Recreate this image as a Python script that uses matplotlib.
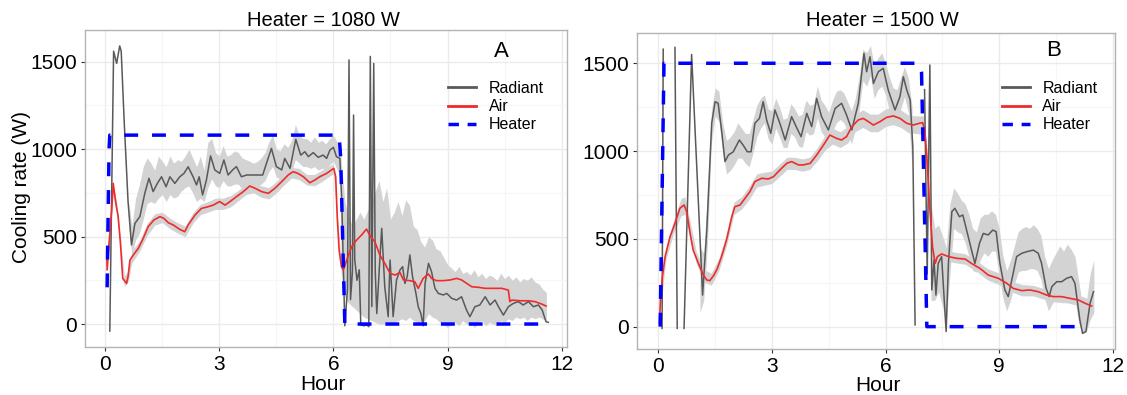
import numpy as np
import matplotlib as mpl
from matplotlib import pyplot as plt
from matplotlib.lines import Line2D

mpl.rcParams.update({"font.family": ["Liberation Sans", "DejaVu Sans"]})
nan = np.nan

############# Data: panel A (heater = 1080 W) ########
rad_a_x = [0.12, 0.22, 0.3, 0.38, 0.42, 0.5, 0.6, 0.69, 0.78, 0.91, 1.04, 1.15, 1.26, 1.37, 1.48, 1.6, 1.7,
           1.83, 1.96, 2.07, 2.18, 2.31, 2.4, 2.47, 2.56, 2.66, 2.77, 2.88, 3.01, 3.12, 3.23, 3.35, 3.45, 3.58,
           3.72, 3.89, 4.14, 4.24, 4.37, 4.5, 4.64, 4.72, 4.86, 5.01, 5.14, 5.25, 5.34, 5.47, 5.6, 5.73, 5.82,
           5.91, 6.0, 6.08, 6.17,
           6.22, 6.27, 6.3, 6.37, 6.41, 6.45, 6.5, 6.53, 6.56, 6.62, 6.68, 6.72, 6.8, 6.88, 6.93, 6.97, 7.01,
           7.06, 7.1, 7.14, 7.22, 7.27, 7.35, 7.44, 7.49, 7.57, 7.66, 7.75, 7.82, 7.88, 7.94, 8.01, 8.08, 8.17,
           8.23, 8.3, 8.36, 8.41, 8.5, 8.58, 8.67, 8.76, 8.89, 8.98, 9.11, 9.24, 9.37, 9.5, 9.59, 9.72, 9.85,
           9.99, 10.12, 10.25, 10.34, 10.47, 10.6, 10.73, 10.86, 10.99, 11.13, 11.26, 11.39, 11.49, 11.59, 11.65]
rad_a_y = [-40, 1560, 1490, 1590, 1560, 1150, 700, 452, 575, 614, 747, 833, 757, 804, 842, 785, 842,
           804, 842, 861, 899, 842, 795, 842, 738, 823, 961, 881, 861, 938, 852, 881, 900, 842,
           852, 852, 852, 919, 1004, 900, 881, 947, 890, 1056, 966, 985, 957, 980, 953, 966, 947,
           995, 1010, 957, 947,
           700, 250, -10, 200, 1510, 140, 300, 1195, 370, 250, 310, -5, -10, -5, -15, 1530, 100,
           1490, 300, 60, 366, 547, 213, 42, 366, 42, 252, 309, 328, 232, 271, 395, 271, 175,
           99, 60, -10, 232, 347, 299, 204, 175, 166, 175, 147, 137, 156, 80, 42, 99, 109,
           156, 109, 137, 99, 51, 99, 118, 128, 109, 128, 99, 109, 80, 13, 10]

air_a_x = [0.04, 0.05, 0.1, 0.17, 0.21, 0.28, 0.34, 0.4, 0.46, 0.56, 0.6, 0.65, 0.74, 0.87, 1.0, 1.13, 1.28,
           1.44, 1.54, 1.66, 1.79, 1.96, 2.09, 2.18, 2.36, 2.53, 2.71, 2.84, 3.01, 3.15, 3.28, 3.45, 3.63, 3.8,
           3.94, 4.11, 4.29, 4.46, 4.64, 4.81, 4.94, 5.07, 5.21, 5.38, 5.51, 5.64, 5.82, 5.95, 6.01, 6.06, 6.1,
           6.15, 6.21, 6.26, 6.35, 6.48, 6.61, 6.74, 6.87, 6.98, 7.09, 7.22, 7.35, 7.49, 7.62, 7.75, 7.84, 8.01,
           8.14, 8.23, 8.36, 8.5, 8.58, 8.71, 8.89, 9.07, 9.24, 9.37, 9.5, 9.64, 9.81, 9.99, 10.21, 10.43, 10.6,
           10.64, 10.69, 10.91, 11.13, 11.3, 11.48, 11.59]
air_a_y = [414, 309, 461, 652, 804, 690, 614, 461, 261, 232, 271, 366, 395, 433, 490, 557, 595,
           614, 604, 579, 566, 541, 528, 566, 623, 661, 671, 680, 700, 680, 700, 728, 757, 789,
           776, 757, 747, 776, 814, 852, 871, 861, 842, 808, 823, 842, 861, 881, 890, 842, 614,
           423, 328, 309, 366, 442, 480, 509, 543, 499, 471, 395, 347, 290, 280, 295, 252, 248,
           242, 204, 261, 286, 261, 248, 248, 252, 261, 252, 233, 213, 210, 204, 204, 204, 194,
           128, 137, 133, 133, 128, 114, 103]

heat_a_x = [0.05, 0.1, 0.12, 6.15, 6.19, 6.3, 11.65]
heat_a_y = [210, 1000, 1080, 1080, 957, 0, 0]

# grey bands (raw measurements)
air_band_a_x = [0.04, 0.1, 0.2, 0.3, 0.4, 0.5, 0.6, 0.7, 0.9, 1.1, 1.3, 1.5, 1.7, 1.9, 2.1, 2.3, 2.5, 2.7, 2.9,
                3.1, 3.3, 3.5, 3.7, 3.9, 4.1, 4.3, 4.5, 4.7, 4.9, 5.1, 5.3, 5.5, 5.7, 5.9, 6.0, 6.1, 6.2]
air_band_a_lo = [390, 430, 740, 630, 430, 215, 240, 350, 415, 505, 565, 580, 545, 520, 500, 575, 625, 640, 655,
                 655, 670, 705, 740, 750, 725, 715, 750, 795, 835, 825, 795, 790, 815, 845, 860, 590, 310]
air_band_a_hi = [440, 490, 800, 700, 490, 275, 300, 420, 475, 575, 630, 640, 605, 580, 560, 635, 685, 700, 720,
                 720, 735, 765, 800, 810, 790, 780, 815, 860, 895, 890, 855, 855, 880, 905, 915, 640, 370]

rad_band_a_x = [0.62, 0.7, 0.8, 0.9, 1.0, 1.1, 1.2, 1.3, 1.4, 1.5, 1.6, 1.7, 1.8, 1.9, 2.0, 2.1, 2.2, 2.3, 2.4,
                2.5, 2.6, 2.7, 2.8, 2.9, 3.0, 3.1, 3.2, 3.3, 3.4, 3.5, 3.6, 3.7, 3.8, 3.9, 4.0, 4.1, 4.2, 4.3,
                4.4, 4.5, 4.6, 4.7, 4.8, 4.9, 5.0, 5.1, 5.2, 5.3, 5.4, 5.5, 5.6, 5.7, 5.8, 5.9, 6.0, 6.1, 6.18,
                6.2, 6.3, 6.4, 6.5, 6.6, 6.7, 6.8, 6.9, 7.0, 7.1, 7.2, 7.3, 7.4, 7.5, 7.6, 7.7, 7.8, 7.9, 8.0,
                8.1, 8.2, 8.3, 8.4, 8.5, 8.6, 8.7, 8.8, 8.9, 9.0, 9.1, 9.2, 9.3, 9.4, 9.5, 9.6, 9.7, 9.8, 9.9,
                10.0, 10.1, 10.2, 10.3, 10.4, 10.5, 10.6, 10.7, 10.8, 10.9, 11.0, 11.1, 11.2, 11.3, 11.4, 11.5,
                11.6]
rad_band_a_hi = [700, 560, 720, 800, 900, 950, 920, 880, 960, 930, 900, 960, 920, 940, 930, 960, 1000, 950, 900,
                 960, 880, 1040, 1060, 980, 960, 1020, 960, 970, 990, 980, 950, 940, 930, 920, 930, 950, 980, 1040,
                 1080, 1000, 990, 1030, 1010, 1050, 1140, 1080, 1060, 1060, 1040, 1070, 1040, 1050, 1030, 1060,
                 1080, 1040, 1020,
                 950, 700, 620, 560, 600, 640, 600, 650, 700, 760, 820, 700, 780, 600, 640, 700, 620, 710, 680,
                 560, 540, 470, 440, 500, 480, 430, 420, 380, 340, 320, 300, 330, 290, 300, 280, 310, 270, 290,
                 260, 280, 270, 250, 290, 260, 280, 250, 270, 240, 260, 250, 270, 240, 230, 200, 180]
rad_band_a_lo = [560, 400, 480, 520, 600, 690, 700, 690, 720, 740, 700, 740, 720, 730, 760, 780, 790, 750, 700,
                 720, 700, 780, 830, 790, 780, 820, 790, 790, 800, 800, 770, 780, 790, 790, 790, 800, 820, 870,
                 900, 840, 830, 860, 860, 870, 940, 920, 900, 900, 890, 900, 880, 890, 880, 910, 930, 880, 860,
                 300, 150, 120, 100, 80, 60, 40, 30, 20, 10, 0, 0, 0, 0, 10, 20, 30, 20, 40,
                 20, 10, 0, 20, 60, 40, 30, 10, 0, -20, 0, 10, -10, 20, 0, 10, -20, 0, 20,
                 -10, 10, 0, -10, 20, 10, 30, 20, 40, 30, 40, 20, 40, 30, 40, 30, 20]

############# Data: panel B (heater = 1500 W) ########
rad_b_x = [0.1, 0.13, nan, 0.44, 0.5, nan, 0.68, 0.88, 1.17, 1.28, 1.41, 1.5, 1.58, 1.67, 1.76, 1.85, 1.98,
           2.14, 2.24, 2.35, 2.45, 2.55, 2.67, 2.77, 2.86, 2.97, 3.08, 3.21, 3.35, 3.52, 3.64, 3.77, 3.92,
           4.05, 4.18, 4.31, 4.49, 4.67, 4.84, 4.97, 5.11, 5.28, 5.37, 5.43, 5.5, 5.59, 5.68, 5.81, 5.94,
           6.07, 6.25, 6.38, 6.47, 6.56, 6.65, 6.72, 6.78, nan,
           7.03, 7.1, 7.17, 7.22, 7.28, 7.33, 7.39, 7.48, 7.6, 7.66, 7.75, 7.83, 7.95, 8.04, 8.14, 8.27,
           8.36, 8.48, 8.58, 8.71, 8.83, 8.92, 9.02, 9.15, 9.24, 9.36, 9.46, 9.6, 9.73, 9.9, 10.03, 10.12,
           10.24, 10.32, 10.39, 10.52, 10.65, 10.78, 10.91, 11.0, 11.13, 11.2, 11.29, 11.4, 11.49]
rad_b_y = [-10, 1580, nan, 1590, -10, nan, -10, 1550, 180, 550, 1158, 1281, 1272, 1120, 940, 977, 996,
           1063, 1034, 996, 996, 1158, 1186, 1281, 1177, 1101, 1234, 1158, 1063, 1196, 1139, 1082, 1215,
           1139, 1300, 1196, 1120, 1243, 1272, 1205, 1120, 1272, 1442, 1556, 1452, 1537, 1385, 1452, 1471,
           1348, 1234, 1310, 1423, 1348, 1291, 1025, 10, nan,
           1350, 300, 1490, 209, 380, 180, 360, 399, -28, 360, 655, 674, 626, 636, 550, 436,
           360, 474, 531, 522, 550, 541, 360, 209, 171, 294, 399, 418, 427, 436, 418, 360,
           218, 171, 228, 256, 256, 275, 285, 247, 38, -38, -28, 133, 199]

air_b_x = [0.03, 0.06, 0.11, 0.18, 0.31, 0.44, 0.57, 0.68, 0.75, 0.84, 0.92, 1.06, 1.19, 1.28, 1.36, 1.47, 1.56,
           1.67, 1.8, 1.94, 2.02, 2.16, 2.29, 2.42, 2.55, 2.73, 2.9, 3.04, 3.21, 3.39, 3.52, 3.7, 3.83, 4.01,
           4.18, 4.36, 4.53, 4.71, 4.84, 4.97, 5.11, 5.28, 5.41, 5.55, 5.68, 5.85, 6.03, 6.21, 6.38, 6.56, 6.73,
           6.89, 6.98, 7.04, 7.09, 7.16, 7.24, 7.31, 7.37, 7.48, 7.66, 7.88, 8.1, 8.27, 8.49, 8.71, 8.98, 9.2,
           9.37, 9.6, 9.81, 10.03, 10.25, 10.43, 10.65, 10.87, 11.09, 11.27, 11.44]
air_b_y = [19, 171, 285, 399, 512, 588, 674, 693, 655, 531, 436, 360, 294, 266, 262, 294, 332,
           399, 493, 626, 683, 693, 731, 769, 826, 845, 841, 854, 892, 930, 940, 921, 921, 930,
           977, 1034, 1091, 1072, 1063, 1082, 1139, 1177, 1186, 1167, 1148, 1167, 1192, 1200, 1186, 1158, 1148,
           1158, 1162, 1110, 968, 702, 455, 360, 399, 414, 399, 389, 385, 360, 332, 294, 275, 247,
           218, 205, 209, 199, 180, 171, 171, 161, 152, 133, 118]

heat_b_x = [0.05, 0.15, 6.9, 6.95, 7.09, 11.2]
heat_b_y = [0, 1500, 1500, 1450, 0, 0]

air_band_b_x = [0.05, 0.2, 0.4, 0.6, 0.7, 0.8, 1.0, 1.2, 1.4, 1.6, 1.8, 2.0, 2.2, 2.4, 2.6, 2.8, 3.0, 3.2, 3.4,
                3.6, 3.8, 4.0, 4.2, 4.4, 4.6, 4.8, 5.0, 5.2, 5.4, 5.6, 5.8, 6.0, 6.2, 6.4, 6.6, 6.8, 7.0, 7.1,
                7.2, 7.3, 7.5, 7.8, 8.1, 8.4, 8.7, 9.0, 9.3, 9.6, 9.9, 10.2, 10.5, 10.8, 11.1, 11.45]
air_band_b_lo = [80, 380, 530, 630, 640, 550, 360, 255, 235, 320, 460, 640, 670, 725, 795, 805, 815, 855, 895,
                 895, 885, 895, 945, 1005, 1040, 1020, 1045, 1110, 1135, 1110, 1110, 1140, 1150, 1135, 1105,
                 1100, 1095, 880, 540, 330, 380, 365, 355, 315, 265, 240, 200, 175, 175, 155, 140, 135, 120, 90]
air_band_b_hi = [160, 450, 600, 730, 740, 640, 430, 325, 305, 390, 530, 710, 740, 800, 870, 880, 885, 925, 965,
                 965, 955, 965, 1020, 1090, 1130, 1110, 1140, 1210, 1235, 1210, 1210, 1240, 1250, 1235, 1205,
                 1200, 1200, 1000, 620, 400, 445, 425, 415, 375, 330, 305, 260, 240, 235, 215, 205, 195, 180, 150]

rad_band_b1_x = [1.1, 1.2, 1.3, 1.4, 1.5, 1.6, 1.7, 1.8, 1.9, 2.0, 2.1, 2.2, 2.3, 2.4, 2.5, 2.6, 2.7, 2.8, 2.9,
                 3.0, 3.1, 3.2, 3.3, 3.4, 3.5, 3.6, 3.7, 3.8, 3.9, 4.0, 4.1, 4.2, 4.3, 4.4, 4.5, 4.6, 4.7, 4.8,
                 4.9, 5.0, 5.1, 5.2, 5.3, 5.4, 5.5, 5.6, 5.7, 5.8, 5.9, 6.0, 6.1, 6.2, 6.3, 6.4, 6.5, 6.6, 6.7]
rad_band_b1_hi = [450, 420, 760, 1230, 1360, 1340, 1160, 1060, 1080, 1110, 1160, 1130, 1100, 1100, 1180, 1260,
                  1300, 1320, 1240, 1230, 1300, 1250, 1180, 1190, 1270, 1240, 1200, 1210, 1290, 1260, 1270,
                  1370, 1290, 1260, 1220, 1290, 1340, 1350, 1330, 1280, 1230, 1300, 1420, 1580, 1560, 1600,
                  1490, 1530, 1560, 1500, 1420, 1360, 1350, 1420, 1480, 1420, 1250]
rad_band_b1_lo = [80, 150, 480, 1040, 1200, 1170, 1000, 870, 890, 920, 960, 960, 930, 910, 990, 1080, 1130,
                  1160, 1070, 1040, 1130, 1080, 1020, 1020, 1100, 1080, 1030, 1020, 1110, 1090, 1100, 1190,
                  1110, 1080, 1040, 1110, 1160, 1180, 1160, 1110, 1040, 1120, 1230, 1400, 1370, 1430, 1300,
                  1350, 1370, 1320, 1230, 1170, 1160, 1240, 1310, 1220, 900]

rad_band_b2_x = [7.2, 7.3, 7.4, 7.5, 7.6, 7.7, 7.8, 7.9, 8.0, 8.1, 8.2, 8.3, 8.4, 8.5, 8.6, 8.7, 8.8, 8.9, 9.0,
                 9.1, 9.2, 9.3, 9.4, 9.5, 9.6, 9.7, 9.8, 9.9, 10.0, 10.1, 10.2, 10.3, 10.4, 10.5, 10.6, 10.7,
                 10.8, 10.9, 11.0, 11.1, 11.2, 11.3, 11.4, 11.5]
rad_band_b2_hi = [700, 560, 580, 520, 450, 700, 790, 760, 720, 700, 640, 560, 540, 620, 640, 640, 660, 640, 560,
                  400, 320, 380, 460, 540, 560, 570, 560, 580, 560, 520, 400, 330, 380, 420, 460, 430, 470, 440,
                  400, 260, 120, 140, 300, 380]
rad_band_b2_lo = [150, 150, 200, 120, 20, 300, 560, 540, 530, 480, 400, 320, 310, 380, 420, 400, 430, 430, 290,
                  160, 90, 150, 240, 310, 320, 320, 330, 330, 320, 270, 160, 90, 130, 160, 170, 170, 180, 190,
                  150, 20, -40, -30, 40, 80]

titles = ["Heater = 1080 W", "Heater = 1500 W"]
panel_tags = ["A", "B"]
series_names = ["Radiant", "Air", "Heater"]

############# Styles ########
c_rad = '#595959'
c_air = '#ee2c2c'
c_heat = '#0000ff'
c_band = '#d3d3d3'
W, H = 1127, 395

fig = plt.figure(figsize=(W / 100, H / 100), dpi=100)
axA = fig.add_axes([84.7 / W, 1 - 347.3 / H, (567.3 - 84.7) / W, (347.3 - 30) / H])
axB = fig.add_axes([636.7 / W, 1 - 349.3 / H, (1114.7 - 636.7) / W, (349.3 - 32.7) / H])


def draw_panel(ax, bands, rx, ry, ax_, ay_, hx, hy, xlim, ylim):
    for bx, blo, bhi in bands:
        ax.fill_between(bx, blo, bhi, color=c_band, lw=0, zorder=1)
    ax.plot(rx, ry, color=c_rad, lw=1.1, zorder=3)
    ax.plot(ax_, ay_, color=c_air, lw=1.2, zorder=4)
    ax.plot(hx, hy, color=c_heat, lw=2.5, linestyle=(0, (4, 4)), zorder=5)
    ax.set_xlim(*xlim)
    ax.set_ylim(*ylim)
    ax.set_xticks([0, 3, 6, 9, 12])
    ax.set_xticks([1.5, 4.5, 7.5, 10.5], minor=True)
    ax.set_yticks([0, 500, 1000, 1500])
    ax.set_yticks([250, 750, 1250], minor=True)
    ax.grid(True, which='major', color='#ebebeb', lw=1.0, zorder=0)
    ax.grid(True, which='minor', color='#f6f6f6', lw=0.8, zorder=0)
    ax.set_axisbelow(True)
    ax.tick_params(which='major', length=3, width=0.8, color='#333333', labelsize=15, pad=2.5)
    ax.tick_params(which='minor', length=0)
    for s in ax.spines.values():
        s.set_color('#b3b3b3')
        s.set_linewidth(1.0)


draw_panel(axA,
           [(air_band_a_x, air_band_a_lo, air_band_a_hi), (rad_band_a_x, rad_band_a_lo, rad_band_a_hi)],
           rad_a_x, rad_a_y, air_a_x, air_a_y, heat_a_x, heat_a_y, (-0.54, 12.15), (-133, 1681))
draw_panel(axB,
           [(air_band_b_x, air_band_b_lo, air_band_b_hi), (rad_band_b1_x, rad_band_b1_lo, rad_band_b1_hi),
            (rad_band_b2_x, rad_band_b2_lo, rad_band_b2_hi)],
           rad_b_x, rad_b_y, air_b_x, air_b_y, heat_b_x, heat_b_y, (-0.57, 12.05), (-129, 1674))

# titles, axis labels, panel tags
fig.text(323 / W, 1 - 26 / H, titles[0], ha='center', va='baseline', fontsize=14.5)
fig.text(882 / W, 1 - 26 / H, titles[1], ha='center', va='baseline', fontsize=14.5)
fig.text(323 / W, 1 - 390 / H, 'Hour', ha='center', va='baseline', fontsize=15)
fig.text(878 / W, 1 - 391 / H, 'Hour', ha='center', va='baseline', fontsize=15)
fig.text(21.7 / W, 1 - 187 / H, 'Cooling rate (W)', rotation=90, ha='center', va='center', fontsize=15)
axA.text(0.864, 0.931, panel_tags[0], transform=axA.transAxes, ha='center', va='center', fontsize=16)
axB.text(0.8715, 0.943, panel_tags[1], transform=axB.transAxes, ha='center', va='center', fontsize=16)

# legends
for ax, x0 in [(axA, 448.3), (axB, 1001.7)]:
    handles = [Line2D([], [], color=c_rad, lw=2.0),
               Line2D([], [], color=c_air, lw=2.0),
               Line2D([], [], color=c_heat, lw=2.5, linestyle=(0, (3, 2.5)))]
    ax.legend(handles, series_names, loc='upper left', bbox_to_anchor=(x0 / W, 1 - 81 / H),
              bbox_transform=fig.transFigure, frameon=False, fontsize=11.5, handlelength=1.75,
              handletextpad=0.8, labelspacing=0.2, borderpad=0, borderaxespad=0)

plt.savefig('out.png', dpi=100)
